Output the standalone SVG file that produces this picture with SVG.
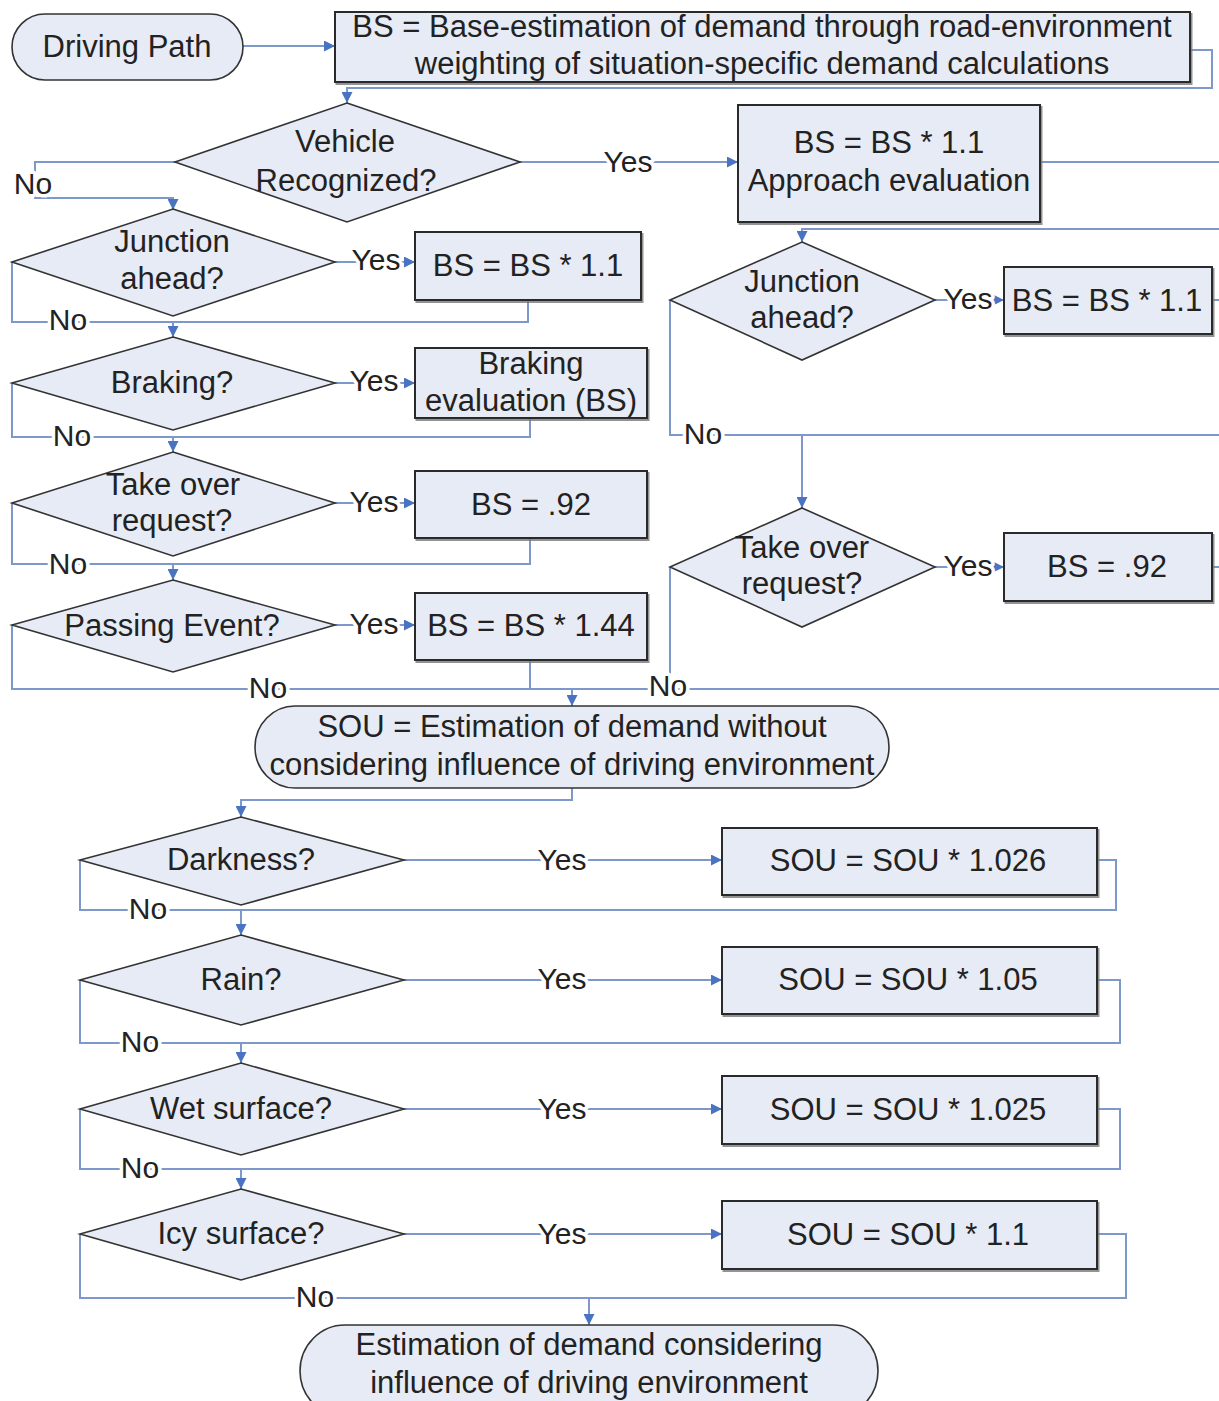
<svg xmlns="http://www.w3.org/2000/svg" width="1219" height="1401" viewBox="0 0 1219 1401">
<style>
  .t{font-family:"Liberation Sans",Arial,sans-serif;font-size:31px;fill:#222;text-anchor:middle}
  .lbl{font-family:"Liberation Sans",Arial,sans-serif;font-size:30px;fill:#222;text-anchor:middle;stroke:#fff;stroke-width:7px;paint-order:stroke;stroke-linejoin:round}
  .box{fill:#e6ebf5;stroke:#2a2a2a;stroke-width:2;filter:url(#sh)}
  .dia{fill:#e6ebf5;stroke:#333;stroke-width:1.6}
  .pill{fill:#e6ebf5;stroke:#333;stroke-width:1.6}
  .c{fill:none;stroke:#7d98cb;stroke-width:2}
  .a{fill:none;stroke:#7d98cb;stroke-width:2;marker-end:url(#arr)}
</style>
<defs>
  <marker id="arr" viewBox="0 0 10 10" refX="10" refY="5" markerWidth="12" markerHeight="11" orient="auto" markerUnits="userSpaceOnUse">
    <path d="M0,0 L10,5 L0,10 z" fill="#4a74c2"/>
  </marker>
  <filter id="sh" x="-5%" y="-5%" width="110%" height="115%">
    <feDropShadow dx="1.5" dy="2" stdDeviation="0.6" flood-color="#777" flood-opacity="0.8"/>
  </filter>
</defs>
<rect width="1219" height="1401" fill="#fff"/>

<g id="connectors">
  <path class="a" d="M243,46 H335"/>
  <path class="a" d="M1190,50 H1212 V88 H347 V103"/>
  <path class="a" d="M520,162 H738"/>
  <path class="a" d="M175,162 H35 V198 H173 V210"/>
  <path class="c" d="M1040,162 H1219"/>
  <path class="a" d="M1219,229 H802 V242"/>
  <path class="a" d="M335,262 H415"/>
  <path class="c" d="M12,262 V322 H528 V300"/>
  <path class="a" d="M173,322 V337"/>
  <path class="a" d="M335,383 H415"/>
  <path class="c" d="M12,383 V437 H530 V418"/>
  <path class="a" d="M173,437 V452"/>
  <path class="a" d="M335,503 H415"/>
  <path class="c" d="M12,503 V564 H530 V538"/>
  <path class="a" d="M173,564 V580"/>
  <path class="a" d="M335,625 H415"/>
  <path class="c" d="M12,625 V689 H1219"/>
  <path class="c" d="M530,660 V689"/>
  <path class="a" d="M572,689 V706"/>
  <path class="a" d="M935,300 H1004"/>
  <path class="c" d="M1212,300 H1219"/>
  <path class="c" d="M670,300 V435 H1219"/>
  <path class="a" d="M802,435 V508"/>
  <path class="a" d="M935,567 H1004"/>
  <path class="c" d="M1212,567 H1219"/>
  <path class="c" d="M670,567 V689"/>
  <path class="a" d="M572,788 V800 H241 V817"/>
  <path class="a" d="M404,860 H722"/>
  <path class="c" d="M1097,860 H1116 V910 H80 V860"/>
  <path class="a" d="M241,910 V935"/>
  <path class="a" d="M404,980 H722"/>
  <path class="c" d="M1097,980 H1120 V1043 H80 V980"/>
  <path class="a" d="M241,1043 V1063"/>
  <path class="a" d="M404,1109 H722"/>
  <path class="c" d="M1097,1109 H1120 V1169 H80 V1109"/>
  <path class="a" d="M241,1169 V1189"/>
  <path class="a" d="M404,1234 H722"/>
  <path class="c" d="M1097,1234 H1126 V1298 H80 V1234"/>
  <path class="a" d="M589,1298 V1325"/>
  <text class="lbl" x="628" y="172">Yes</text>
  <text class="lbl" x="33" y="194">No</text>
  <text class="lbl" x="376" y="270">Yes</text>
  <text class="lbl" x="68" y="330">No</text>
  <text class="lbl" x="374" y="391">Yes</text>
  <text class="lbl" x="72" y="446">No</text>
  <text class="lbl" x="374" y="512">Yes</text>
  <text class="lbl" x="68" y="574">No</text>
  <text class="lbl" x="374" y="634">Yes</text>
  <text class="lbl" x="268" y="698">No</text>
  <text class="lbl" x="968" y="309">Yes</text>
  <text class="lbl" x="703" y="444">No</text>
  <text class="lbl" x="968" y="576">Yes</text>
  <text class="lbl" x="668" y="696">No</text>
  <text class="lbl" x="562" y="870">Yes</text>
  <text class="lbl" x="148" y="919">No</text>
  <text class="lbl" x="562" y="989">Yes</text>
  <text class="lbl" x="140" y="1052">No</text>
  <text class="lbl" x="562" y="1119">Yes</text>
  <text class="lbl" x="140" y="1178">No</text>
  <text class="lbl" x="562" y="1244">Yes</text>
  <text class="lbl" x="315" y="1307">No</text>
</g>

<g id="driving-path">
  <rect class="pill" x="12" y="14" width="231" height="66" rx="33"/>
  <text class="t" x="127" y="57">Driving Path</text>
</g>
<g id="bs-base">
  <rect class="box" x="335" y="12" width="855" height="70"/>
  <text class="t" x="762" y="37">BS = Base-estimation of demand through road-environment</text>
  <text class="t" x="762" y="74">weighting of situation-specific demand calculations</text>
</g>
<g id="vehicle-recognized">
  <polygon class="dia" points="347,103 520,162 347,222 175,162"/>
  <text class="t" x="345" y="152">Vehicle</text>
  <text class="t" x="346" y="191">Recognized?</text>
</g>
<g id="approach">
  <rect class="box" x="738" y="105" width="302" height="117"/>
  <text class="t" x="889" y="153">BS = BS * 1.1</text>
  <text class="t" x="889" y="191">Approach evaluation</text>
</g>
<g id="junction-left">
  <polygon class="dia" points="173,209 335,262 173,316 12,262"/>
  <text class="t" x="172" y="252">Junction</text>
  <text class="t" x="172" y="289">ahead?</text>
</g>
<g id="junction-left-box">
  <rect class="box" x="415" y="232" width="226" height="68"/>
  <text class="t" x="528" y="276">BS = BS * 1.1</text>
</g>
<g id="braking">
  <polygon class="dia" points="173,337 335,383 173,430 12,383"/>
  <text class="t" x="172" y="393">Braking?</text>
</g>
<g id="braking-box">
  <rect class="box" x="415" y="348" width="232" height="70"/>
  <text class="t" x="531" y="374">Braking</text>
  <text class="t" x="531" y="411">evaluation (BS)</text>
</g>
<g id="takeover-left">
  <polygon class="dia" points="173,452 335,503 173,556 12,503"/>
  <text class="t" x="173" y="495">Take over</text>
  <text class="t" x="172" y="531">request?</text>
</g>
<g id="takeover-left-box">
  <rect class="box" x="415" y="471" width="232" height="67"/>
  <text class="t" x="531" y="515">BS = .92</text>
</g>
<g id="passing">
  <polygon class="dia" points="173,580 335,625 173,672 12,625"/>
  <text class="t" x="172" y="636">Passing Event?</text>
</g>
<g id="passing-box">
  <rect class="box" x="415" y="593" width="232" height="67"/>
  <text class="t" x="531" y="636">BS = BS * 1.44</text>
</g>
<g id="junction-right">
  <polygon class="dia" points="802,242 935,300 802,360 670,300"/>
  <text class="t" x="802" y="292">Junction</text>
  <text class="t" x="802" y="328">ahead?</text>
</g>
<g id="junction-right-box">
  <rect class="box" x="1004" y="267" width="208" height="67"/>
  <text class="t" x="1107" y="311">BS = BS * 1.1</text>
</g>
<g id="takeover-right">
  <polygon class="dia" points="802,508 935,567 802,627 670,567"/>
  <text class="t" x="802" y="558">Take over</text>
  <text class="t" x="802" y="594">request?</text>
</g>
<g id="takeover-right-box">
  <rect class="box" x="1004" y="533" width="208" height="68"/>
  <text class="t" x="1107" y="577">BS = .92</text>
</g>
<g id="sou">
  <rect class="pill" x="255" y="706" width="634" height="82" rx="40" ry="41"/>
  <text class="t" x="572" y="737">SOU = Estimation of demand without</text>
  <text class="t" x="572" y="775">considering influence of driving environment</text>
</g>
<g id="darkness">
  <polygon class="dia" points="241,817 404,860 241,905 80,860"/>
  <text class="t" x="241" y="870">Darkness?</text>
</g>
<g id="darkness-box">
  <rect class="box" x="722" y="828" width="375" height="67"/>
  <text class="t" x="908" y="871">SOU = SOU * 1.026</text>
</g>
<g id="rain">
  <polygon class="dia" points="241,935 404,980 241,1025 80,980"/>
  <text class="t" x="241" y="990">Rain?</text>
</g>
<g id="rain-box">
  <rect class="box" x="722" y="947" width="375" height="67"/>
  <text class="t" x="908" y="990">SOU = SOU * 1.05</text>
</g>
<g id="wet">
  <polygon class="dia" points="241,1063 404,1109 241,1155 80,1109"/>
  <text class="t" x="241" y="1119">Wet surface?</text>
</g>
<g id="wet-box">
  <rect class="box" x="722" y="1076" width="375" height="68"/>
  <text class="t" x="908" y="1120">SOU = SOU * 1.025</text>
</g>
<g id="icy">
  <polygon class="dia" points="241,1189 404,1234 241,1280 80,1234"/>
  <text class="t" x="241" y="1244">Icy surface?</text>
</g>
<g id="icy-box">
  <rect class="box" x="722" y="1201" width="375" height="68"/>
  <text class="t" x="908" y="1245">SOU = SOU * 1.1</text>
</g>
<g id="final">
  <rect class="pill" x="300" y="1325" width="578" height="92" rx="45" ry="46"/>
  <text class="t" x="589" y="1355">Estimation of demand considering</text>
  <text class="t" x="589" y="1393">influence of driving environment</text>
</g>
</svg>
